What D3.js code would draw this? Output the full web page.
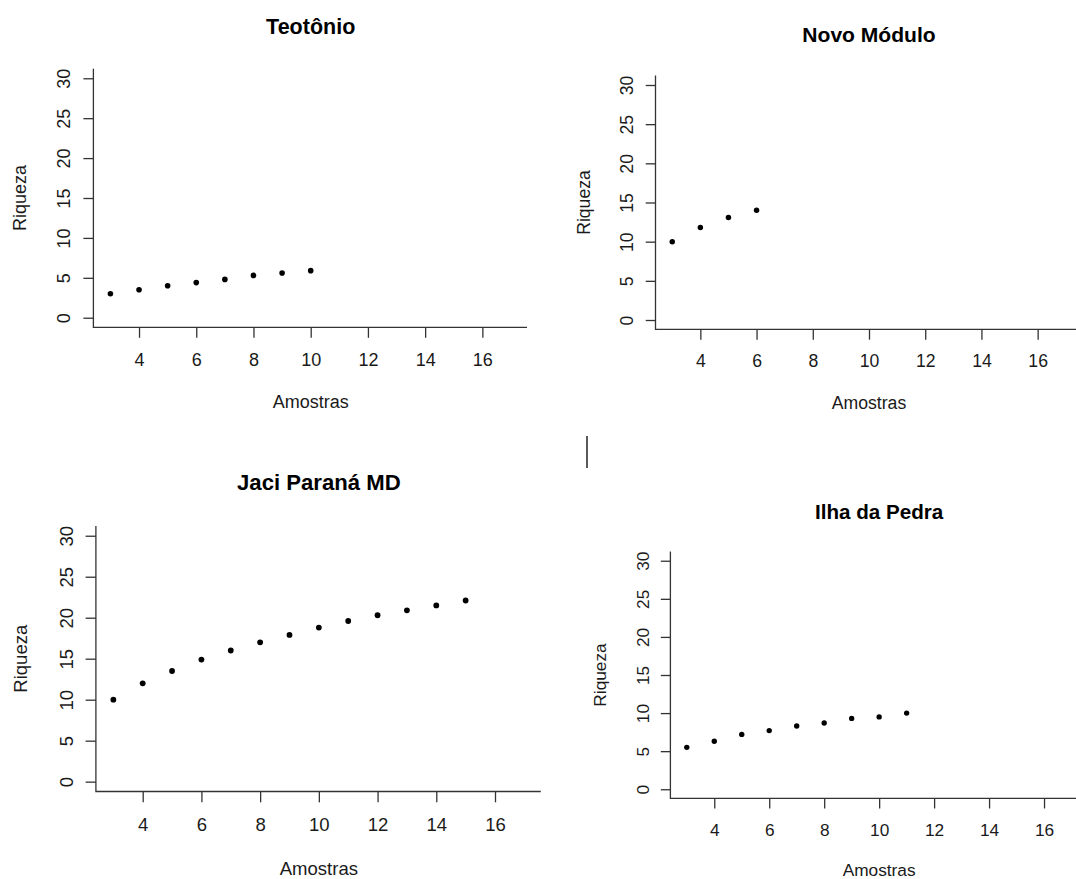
<!DOCTYPE html>
<html>
<head>
<meta charset="utf-8">
<script src="https://cdn.jsdelivr.net/npm/d3@7"></script>
<style>
  body { margin: 0; background: #fff; }
  text { font-family: "Liberation Sans", Arial, sans-serif; fill: #1a1a1a; }
</style>
</head>
<body>
<div id="graphic"></div>
<script>
// dados das curvas de acumulação (Riqueza x Amostras)
var titles = ["Teotônio", "Novo Módulo", "Jaci Paraná MD", "Ilha da Pedra"];
var amostrasTeotonio = [3, 4, 5, 6, 7, 8, 9, 10];
var riquezaTeotonio  = [3.0, 3.5, 4.0, 4.4, 4.8, 5.3, 5.6, 5.9];
var amostrasNovo = [3, 4, 5, 6];
var riquezaNovo  = [10.0, 11.8, 13.1, 14.0];
var amostrasJaci = [3, 4, 5, 6, 7, 8, 9, 10, 11, 12, 13, 14, 15];
var riquezaJaci  = [10.0, 12.0, 13.5, 14.9, 16.0, 17.0, 17.9, 18.8, 19.6, 20.3, 20.9, 21.5, 22.1];
var amostrasIlha = [3, 4, 5, 6, 7, 8, 9, 10, 11];
var riquezaIlha  = [5.5, 6.3, 7.2, 7.7, 8.3, 8.7, 9.3, 9.5, 10.0];
var xTicks = [4, 6, 8, 10, 12, 14, 16];
var yTicks = [0, 5, 10, 15, 20, 25, 30];
var xDomain = [3, 17];
var yDomain = [0, 30];

var amostras = [amostrasTeotonio, amostrasNovo, amostrasJaci, amostrasIlha];
var riqueza  = [riquezaTeotonio, riquezaNovo, riquezaJaci, riquezaIlha];

// posição de cada painel na imagem (cada um foi colado com escala um pouco diferente)
var boxes = [
  { left: 94.4,  right: 527.0,  top: 68.7,  bottom: 327.3, k: 1.0 },
  { left: 656.5, right: 1081.5, top: 75.6,  bottom: 329.4, k: 0.98 },
  { left: 96.9,  right: 540.8,  top: 525.9, bottom: 791.5, k: 1.03 },
  { left: 671.4, right: 1086.9, top: 551.6, bottom: 798.4, k: 0.96 }
];

var svg = d3.select("#graphic").append("svg")
    .attr("width", 1076)
    .attr("height", 879)
    .style("display", "block");

svg.append("rect").attr("width", 1076).attr("height", 879).attr("fill", "#fff");

// R expande os limites em 4%
function expand(dom) {
  var d = (dom[1] - dom[0]) * 0.04;
  return [dom[0] - d, dom[1] + d];
}

boxes.forEach(function(b, i) {
  var g = svg.append("g");
  var x = d3.scaleLinear().domain(expand(xDomain)).range([b.left, b.right]);
  var y = d3.scaleLinear().domain(expand(yDomain)).range([b.bottom, b.top]);
  var tickFont = 18 * b.k;
  var labFont = 18 * b.k;

  // caixa em "L"
  g.append("path")
    .attr("d", "M" + (b.left - 1) + "," + b.top + "V" + b.bottom + "H" + b.right)
    .attr("fill", "none")
    .attr("stroke", "#333")
    .attr("stroke-width", 1.3);

  // eixo x
  var gx = g.append("g")
    .attr("transform", "translate(0," + b.bottom + ")")
    .call(d3.axisBottom(x).tickValues(xTicks).tickSize(10.5 * b.k).tickSizeOuter(0)
      .tickPadding(15.5 * b.k));
  gx.select(".domain").remove();
  gx.selectAll(".tick line").attr("stroke", "#333").attr("stroke-width", 1.3);
  gx.selectAll(".tick text")
    .attr("font-size", tickFont)
    .attr("font-family", "Liberation Sans, Arial, sans-serif")
    .attr("fill", "#1a1a1a");

  // eixo y (rótulos girados)
  var gy = g.append("g")
    .attr("transform", "translate(" + (b.left - 1) + ",0)")
    .call(d3.axisLeft(y).tickValues(yTicks).tickSize(10 * b.k).tickSizeOuter(0));
  gy.select(".domain").remove();
  gy.selectAll(".tick line").attr("stroke", "#333").attr("stroke-width", 1.3);
  gy.selectAll(".tick text")
    .attr("x", null)
    .attr("dy", null)
    .attr("text-anchor", "middle")
    .attr("dominant-baseline", "central")
    .attr("transform", "translate(" + (-29 * b.k) + ",0) rotate(-90)")
    .attr("font-size", tickFont)
    .attr("font-family", "Liberation Sans, Arial, sans-serif")
    .attr("fill", "#1a1a1a");

  // pontos
  g.selectAll("circle")
    .data(d3.zip(amostras[i], riqueza[i]))
    .enter().append("circle")
    .attr("cx", function(d) { return x(d[0]); })
    .attr("cy", function(d) { return y(d[1]); })
    .attr("r", 2.8 * b.k)
    .attr("fill", "#000");

  var cx = (b.left + b.right) / 2;
  var cy = (b.top + b.bottom) / 2;

  g.append("text")
    .attr("x", cx)
    .attr("y", b.top - 42 * b.k)
    .attr("text-anchor", "middle")
    .attr("dominant-baseline", "central")
    .attr("font-size", 21.5 * b.k)
    .attr("font-weight", "bold")
    .style("fill", "#000")
    .text(titles[i]);

  g.append("text")
    .attr("x", cx)
    .attr("y", b.bottom + 75 * b.k)
    .attr("text-anchor", "middle")
    .attr("dominant-baseline", "central")
    .attr("font-size", labFont)
    .text("Amostras");

  g.append("text")
    .attr("transform", "translate(" + (b.left - 74 * b.k) + "," + cy + ") rotate(-90)")
    .attr("text-anchor", "middle")
    .attr("dominant-baseline", "central")
    .attr("font-size", labFont)
    .text("Riqueza");
});

// traço solto entre os painéis
svg.append("line")
  .attr("x1", 587).attr("x2", 587)
  .attr("y1", 436).attr("y2", 468)
  .attr("stroke", "#000")
  .attr("stroke-width", 1.3);
</script>
</body>
</html>
